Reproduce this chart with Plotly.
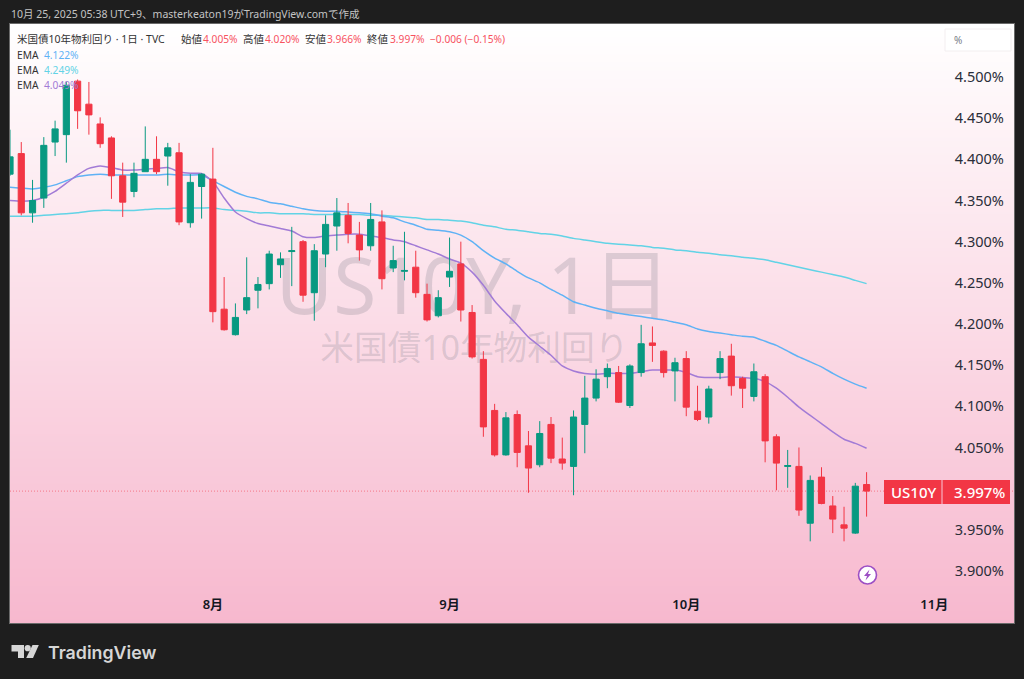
import plotly.graph_objects as go

# ---------- data ----------
opens = [4.382,4.407,4.335,4.353,4.421,4.430,4.495,4.467,4.443,4.426,4.380,4.361,4.385,4.400,4.404,4.408,4.323,4.367,4.376,4.218,
         4.187,4.217,4.241,4.249,4.272,4.288,4.300,4.238,4.285,4.319,4.332,4.308,4.295,4.324,4.268,4.264,4.269,4.236,4.210,4.257,
         4.273,4.214,4.157,4.095,4.041,4.090,4.052,4.029,4.078,4.036,4.027,4.078,4.110,4.136,4.141,4.101,4.141,4.177,4.167,4.143,
         4.158,4.094,4.087,4.141,4.161,4.134,4.112,4.136,4.063,4.027,4.027,3.958,4.014,3.979,3.956,3.946,4.005]
highs = [4.436,4.421,4.375,4.427,4.447,4.494,4.497,4.494,4.451,4.428,4.396,4.396,4.440,4.428,4.420,4.420,4.382,4.383,4.414,4.257,
         4.225,4.281,4.257,4.289,4.287,4.318,4.302,4.297,4.332,4.353,4.347,4.324,4.347,4.338,4.295,4.312,4.289,4.249,4.241,4.305,
         4.300,4.223,4.167,4.103,4.093,4.095,4.070,4.082,4.087,4.062,4.095,4.137,4.145,4.152,4.149,4.151,4.199,4.197,4.168,4.159,
         4.167,4.125,4.125,4.167,4.176,4.136,4.152,4.139,4.066,4.047,4.050,4.016,4.026,3.991,3.978,4.007,4.020]
lows = [4.380,4.332,4.323,4.341,4.404,4.396,4.437,4.430,4.414,4.352,4.330,4.354,4.385,4.382,4.368,4.320,4.317,4.328,4.202,4.192,
        4.186,4.212,4.219,4.242,4.256,4.246,4.227,4.204,4.269,4.289,4.298,4.277,4.289,4.242,4.263,4.253,4.232,4.203,4.208,4.245,
        4.203,4.158,4.063,4.039,4.040,4.026,3.995,4.026,4.031,4.023,3.992,4.043,4.106,4.122,4.104,4.098,4.136,4.154,4.135,4.106,
        4.088,4.082,4.079,4.133,4.113,4.098,4.106,4.032,3.998,4.001,3.967,3.936,3.981,3.946,3.936,3.945,3.966]
closes = [4.403,4.335,4.350,4.417,4.437,4.490,4.459,4.454,4.419,4.380,4.348,4.383,4.400,4.385,4.414,4.324,4.372,4.382,4.215,4.193,
          4.208,4.232,4.248,4.285,4.279,4.289,4.235,4.289,4.321,4.335,4.310,4.290,4.327,4.255,4.277,4.265,4.238,4.205,4.232,4.264,
          4.217,4.160,4.075,4.041,4.086,4.044,4.025,4.067,4.037,4.031,4.087,4.110,4.133,4.146,4.105,4.149,4.176,4.174,4.141,4.153,
          4.099,4.084,4.121,4.158,4.125,4.122,4.142,4.058,4.031,4.028,3.974,4.010,3.982,3.963,3.952,4.003,3.997]
ema_blue = [4.366,4.365,4.364,4.366,4.369,4.374,4.379,4.381,4.382,4.381,4.381,4.381,4.381,4.381,4.382,4.381,4.381,4.381,4.374,4.367,
            4.360,4.355,4.352,4.348,4.346,4.343,4.340,4.338,4.337,4.337,4.336,4.335,4.334,4.331,4.329,4.324,4.320,4.315,4.314,4.312,
            4.308,4.300,4.289,4.280,4.273,4.264,4.256,4.250,4.242,4.235,4.227,4.223,4.219,4.216,4.213,4.211,4.209,4.207,4.205,4.202,
            4.199,4.194,4.191,4.189,4.187,4.185,4.184,4.179,4.174,4.167,4.160,4.154,4.148,4.140,4.133,4.127,4.122]
ema_cyan = [4.331,4.331,4.331,4.332,4.333,4.334,4.335,4.337,4.338,4.338,4.338,4.338,4.339,4.340,4.340,4.341,4.341,4.341,4.341,4.339,
            4.338,4.337,4.335,4.335,4.334,4.334,4.334,4.333,4.333,4.333,4.333,4.333,4.332,4.332,4.331,4.330,4.329,4.327,4.327,4.326,
            4.325,4.323,4.320,4.318,4.315,4.314,4.312,4.310,4.309,4.307,4.304,4.302,4.300,4.298,4.297,4.296,4.295,4.293,4.292,4.290,
            4.289,4.287,4.286,4.284,4.283,4.281,4.280,4.278,4.275,4.272,4.269,4.266,4.263,4.260,4.257,4.253,4.249]
ema_purple = [4.350,4.349,4.350,4.354,4.361,4.371,4.381,4.389,4.392,4.390,4.387,4.387,4.388,4.389,4.390,4.385,4.383,4.383,4.373,4.353,
              4.336,4.328,4.322,4.319,4.316,4.313,4.306,4.305,4.307,4.308,4.309,4.309,4.307,4.305,4.302,4.300,4.295,4.290,4.285,4.279,
              4.274,4.263,4.247,4.228,4.213,4.199,4.184,4.173,4.162,4.149,4.143,4.140,4.139,4.140,4.140,4.140,4.142,4.144,4.144,4.144,
              4.141,4.136,4.135,4.135,4.136,4.135,4.134,4.130,4.122,4.111,4.099,4.089,4.079,4.069,4.060,4.055,4.049]
last_price = 3.997
y_ticks = [4.5,4.45,4.4,4.35,4.3,4.25,4.2,4.15,4.1,4.05,4.0,3.95,3.9]
y_labels = ["4.500%","4.450%","4.400%","4.350%","4.300%","4.250%","4.200%","4.150%","4.100%","4.050%","","3.950%","3.900%"]
month_idx = [18,39,60,82]
month_labels = ["8月","9月","10月","11月"]

# ---------- styling ----------
RED, GREEN = "#F23645", "#089981"
BLUE, CYAN, PURPLE = "#5fb2f5", "#62d3e6", "#a27bd6"
DARK = "#1e1e1e"
FONT = "Noto Sans, Noto Sans CJK JP, sans-serif"
W, H = 1024, 679
L, R, T, B = 10, 1014, 24, 623
XR = [0, 89.08]
YR = [3.8368, 4.5644]
px = lambda x: (x - L) / (R - L)
py = lambda y: (B - y) / (B - T)
idx = list(range(len(closes)))

fig = go.Figure()
fig.add_trace(go.Heatmap(x=XR, y=YR, z=[[1, 1], [0, 0]], zsmooth="best", showscale=False, hoverinfo="skip",
                         zmin=0, zmax=1, colorscale=[[0, "#ffffff"], [1, "#f7b8ce"]]))
wm = "rgba(120,123,134,0.24)"
fig.add_trace(go.Scatter(x=[41.1], y=[4.2365], mode="text", text=["US10Y, 1日"], hoverinfo="skip",
                         textfont=dict(size=78.5, color=wm, family=FONT)))
fig.add_trace(go.Scatter(x=[41.2], y=[4.167], mode="text", text=["米国債10年物利回り"], hoverinfo="skip",
                         textfont=dict(size=33.7, color=wm, family=FONT)))
for vals, col in ((ema_cyan, CYAN), (ema_blue, BLUE), (ema_purple, PURPLE)):
    fig.add_trace(go.Scatter(x=idx, y=vals, mode="lines", hoverinfo="skip", line=dict(color=col, width=1.5, shape="spline", smoothing=0.5)))
fig.add_trace(go.Scatter(x=XR, y=[last_price, last_price], mode="lines", hoverinfo="skip",
                         line=dict(color="rgba(242,54,69,0.55)", width=1, dash="1px 2px")))
fig.add_trace(go.Candlestick(x=idx, open=opens, high=highs, low=lows, close=closes, xaxis="x2", yaxis="y2",
                             whiskerwidth=0,
                             increasing=dict(line=dict(color=GREEN, width=1), fillcolor=GREEN),
                             decreasing=dict(line=dict(color=RED, width=1), fillcolor=RED)))

ann = []
def note(x, y, text, size=11, color="#333333", anchor="left", weight=400):
    ann.append(dict(x=px(x), y=py(y), xref="paper", yref="paper", text=text, showarrow=False, xanchor=anchor,
                    yanchor="middle", font=dict(size=size, color=color, family=FONT, weight=weight), borderpad=0))

note(10, 14, "10月 25, 2025 05:38 UTC+9、masterkeaton19がTradingView.comで作成", 10.5, "#c4c4c4")
note(16, 39, "米国債10年物利回り · 1日 · TVC", 10.5)
VAL = "#f7525f"
for xl, lab, xv, val in ((180, "始値", 202, "4.005%"), (242, "高値", 264, "4.020%"), (304, "安値", 326, "3.966%"), (366, "終値", 389, "3.997%")):
    note(xl, 39, lab, 10.5)
    note(xv, 39, val, 10.2, VAL)
note(429, 39, "−0.006 (−0.15%)", 10.2, VAL)
for y, v, c in ((55, "4.122%", BLUE), (70, "4.249%", CYAN), (85, "4.049%", PURPLE)):
    note(16, y, "EMA", 10.2)
    note(43, y, v, 10.2, c)
note(953, 40, "%", 10, "#787b86")
note(913, 492, "US10Y", 15, "#ffffff", "center", 500)
note(979, 492, "3.997%", 15, "#ffffff", "center", 500)
ann.append(dict(x=px(46), y=py(652), xref="paper", yref="paper", text="TradingView", showarrow=False, xanchor="left",
                yanchor="middle", font=dict(size=17.8, color="#d6d6d6", family="Inter", weight=600)))

def rect(x0, y0, x1, y1, fill, line="rgba(0,0,0,0)"):
    return dict(type="rect", xref="paper", yref="paper", x0=px(x0), x1=px(x1), y0=py(y0), y1=py(y1),
                fillcolor=fill, line=dict(color=line, width=1), layer="above")
def poly(points, fill):
    d = "M" + " L".join(f"{px(a):.5f},{py(b):.5f}" for a, b in points) + " Z"
    return dict(type="path", xref="paper", yref="paper", path=d, fillcolor=fill, line=dict(width=0), layer="above")
def circ(cx, cy, r, fill, line, lw=0):
    return dict(type="circle", xref="paper", yref="paper", x0=px(cx - r), x1=px(cx + r), y0=py(cy - r), y1=py(cy + r),
                fillcolor=fill, line=dict(color=line, width=lw), layer="above")

shapes = [
    rect(945, 29, 1011, 51, "#ffffff", "#f3eef0"),
    rect(884, 480, 941.5, 504, RED),
    rect(942.5, 480, 1010, 504, RED),
    circ(867.5, 575, 9, "#ffffff", "#9c4fc4", 1.6),
    poly([(869.5, 569.5), (864, 576), (867, 576), (865.5, 580.5), (871, 574), (868, 574)], "#9c4fc4"),
    poly([(11.5, 645), (24, 645), (24, 658), (18, 658), (18, 651.5), (11.5, 651.5)], "#d6d6d6"),
    circ(27.7, 648.2, 3.1, "#d6d6d6", "#d6d6d6"),
    poly([(32.5, 645), (38.8, 645), (33, 658), (26.2, 658)], "#d6d6d6"),
]

fig.update_layout(
    width=W, height=H, margin=dict(l=L, r=W - R, t=T, b=H - B), paper_bgcolor=DARK, plot_bgcolor="#ffffff",
    showlegend=False, dragmode=False, annotations=ann, shapes=shapes, font=dict(family=FONT), boxgap=0.22,
    xaxis=dict(range=XR, showgrid=False, zeroline=False, showline=True, mirror=True, linecolor="#6a6a6a", linewidth=1,
               tickmode="array", tickvals=month_idx, ticktext=month_labels, ticks="", ticklabelposition="inside",
               ticklabelstandoff=11, tickfont=dict(size=13, color="#131722", family=FONT, weight=600), fixedrange=True),
    yaxis=dict(range=YR, side="right", showgrid=False, zeroline=False, showline=True, mirror=True, linecolor="#6a6a6a", linewidth=1,
               tickmode="array", tickvals=y_ticks, ticktext=y_labels, ticks="", ticklabelposition="inside",
               ticklabelstandoff=10, tickfont=dict(size=14.5, color="#2a2e39", family=FONT), fixedrange=True),
    xaxis2=dict(range=XR, overlaying="x", anchor="y2", visible=False, fixedrange=True, rangeslider=dict(visible=False)),
    yaxis2=dict(range=YR, overlaying="y", anchor="x2", side="right", visible=False, fixedrange=True),
)
fig.write_html("out.html", config=dict(displayModeBar=False),
               post_script="document.body.style.margin='0';document.body.style.background='#1e1e1e';")
